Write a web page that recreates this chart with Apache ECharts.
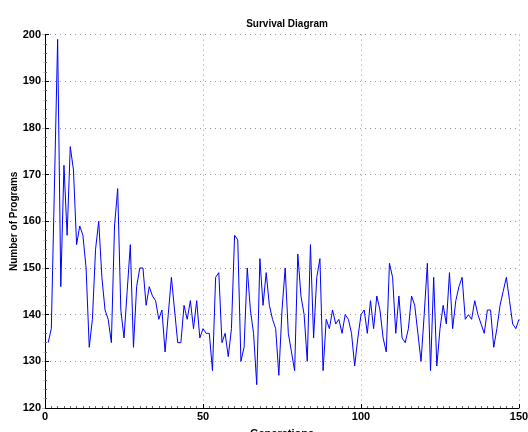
<!DOCTYPE html>
<html>
<head>
<meta charset="utf-8">
<script src="https://cdn.jsdelivr.net/npm/echarts@6/dist/echarts.min.js"></script>
<style>
html,body{margin:0;padding:0;background:#fff;}
#chart{width:528px;height:432px;}
</style>
</head>
<body>
<div id="chart"></div>
<script>
// number of programs per generation (gen 1..150)
var programs = [
	134,137,168,199,146,172,157,176,171,155,
	159,157,150,133,139,154,160,148,141,139,
	134,159,167,141,135,145,155,133,146,150,
	150,142,146,144,143,139,141,132,140,148,
	141,134,134,142,139,143,137,143,135,137,
	136,136,128,148,149,134,136,131,137,157,
	156,130,133,150,141,136,125,152,142,149,
	142,139,137,127,141,150,136,132,128,153,
	144,140,130,155,135,148,152,128,139,137,
	141,138,139,136,140,139,136,129,135,140,
	141,136,143,137,144,141,135,132,151,148,
	136,144,135,134,137,144,142,136,130,140,
	151,128,148,129,137,142,138,149,137,143,
	146,148,139,140,139,143,140,138,136,141,
	141,133,137,142,145,148,143,138,137,139
];
var xTicks = [0, 50, 100, 150];
var yTicks = [120, 130, 140, 150, 160, 170, 180, 190, 200];

var seriesData = [];
for(var i=0;i<programs.length;i++){
	seriesData.push([i+1, programs[i]]);
}

var chart = echarts.init(document.getElementById("chart"), null, {renderer:'canvas'});
var fontFam = '"Liberation Sans", Arial, sans-serif';
var option = {
	animation:false,
	backgroundColor:'#fff',
	title:{
		text:'Survival Diagram',
		left:282,
		top:14,
		textAlign:'center',
		textStyle:{fontFamily:fontFam,fontSize:10,fontWeight:'bold',color:'#000'}
	},
	grid:{left:45,right:9,top:34.6,bottom:24,containLabel:false,outerBoundsMode:'none'},
	xAxis:[{
		type:'value',
		min:xTicks[0],
		max:xTicks[xTicks.length-1],
		interval:50,
		name:'Generations',
		nameLocation:'middle',
		nameGap:20,
		nameMoveOverlap:false,
		nameTextStyle:{fontFamily:fontFam,fontSize:11,fontWeight:'bold',color:'#000'},
		axisLine:{show:true,onZero:false,lineStyle:{color:'#000',width:1}},
		axisTick:{show:true,inside:true,length:4,lineStyle:{color:'#000'}},
		minorTick:{show:true,splitNumber:25,length:2,lineStyle:{color:'#666'}},
		axisLabel:{fontFamily:fontFam,fontSize:11,fontWeight:'bold',color:'#000',margin:3},
		splitLine:{show:true,lineStyle:{color:'#999',type:[1,4],width:1}}
	}],
	yAxis:[{
		type:'value',
		min:yTicks[0],
		max:yTicks[yTicks.length-1],
		interval:10,
		name:'Number of Programs',
		nameLocation:'middle',
		nameGap:26,
		nameMoveOverlap:false,
		nameTextStyle:{fontFamily:fontFam,fontSize:10,fontWeight:'bold',color:'#000'},
		axisLine:{show:true,onZero:false,lineStyle:{color:'#000',width:1}},
		axisTick:{show:true,inside:true,length:4,lineStyle:{color:'#000'}},
		minorTick:{show:true,splitNumber:5,length:2,lineStyle:{color:'#666'}},
		axisLabel:{fontFamily:fontFam,fontSize:11,fontWeight:'bold',color:'#000',margin:4},
		splitLine:{show:true,lineStyle:{color:'#999',type:[1,4],width:1}}
	},{
		type:'value',
		position:'right',
		min:yTicks[0],
		max:yTicks[yTicks.length-1],
		interval:10,
		axisLine:{show:false},
		axisTick:{show:true,inside:true,length:3,lineStyle:{color:'#bbb'}},
		minorTick:{show:true,splitNumber:5,length:2,lineStyle:{color:'#ccc'}},
		axisLabel:{show:false},
		splitLine:{show:false}
	}],
	series:[{
		type:'line',
		data:seriesData,
		showSymbol:false,
		symbol:'none',
		lineStyle:{color:'#0000ff',width:1},
		clip:true
	}]
};
chart.setOption(option);
</script>
</body>
</html>
